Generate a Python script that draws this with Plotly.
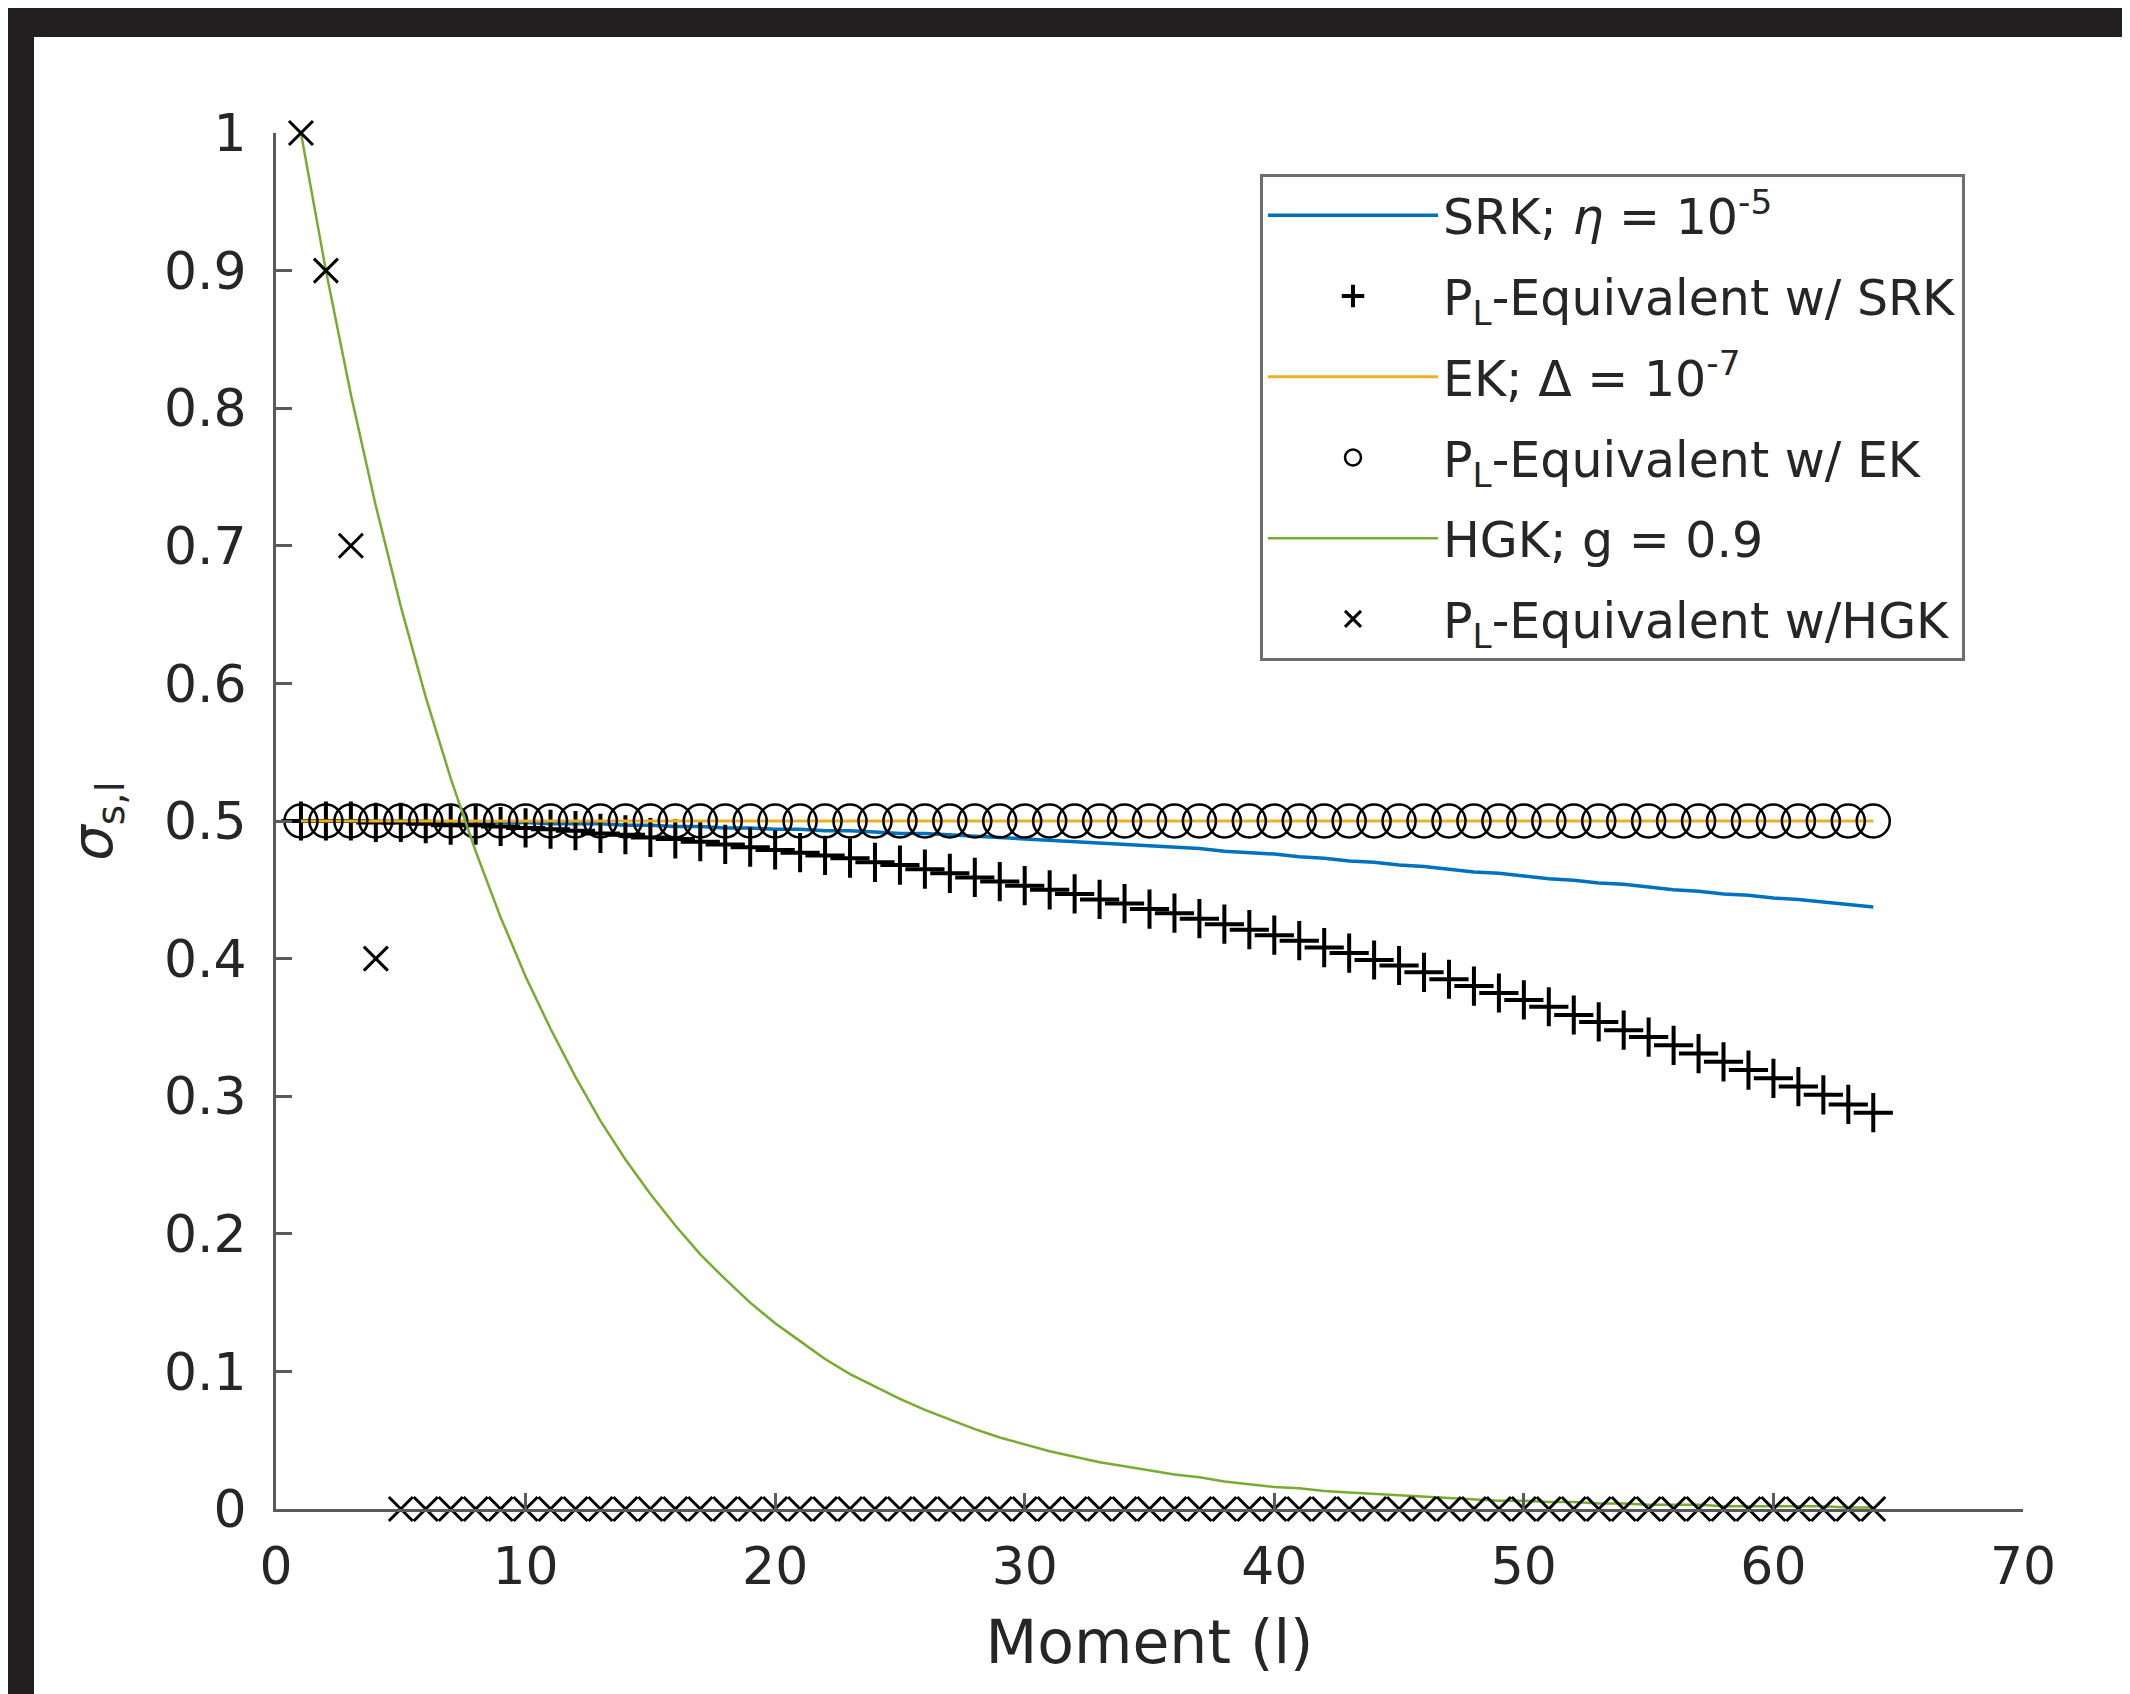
import plotly.graph_objects as go

# ---- data ----
moments = list(range(1, 65))

srk_line = [0.500, 0.500, 0.500, 0.500, 0.500, 0.500, 0.499, 0.499, 0.499, 0.499,
            0.498, 0.498, 0.498, 0.497, 0.497, 0.496, 0.496, 0.495, 0.495, 0.494,
            0.494, 0.493, 0.493, 0.492, 0.491, 0.491, 0.490, 0.489, 0.488, 0.487,
            0.486, 0.485, 0.484, 0.483, 0.482, 0.481, 0.480, 0.478, 0.477, 0.476,
            0.474, 0.473, 0.471, 0.470, 0.468, 0.467, 0.465, 0.463, 0.462, 0.460,
            0.458, 0.457, 0.455, 0.454, 0.452, 0.450, 0.449, 0.447, 0.446, 0.444,
            0.443, 0.441, 0.439, 0.4375]

pl_srk = [0.500, 0.500, 0.500, 0.499, 0.499, 0.498, 0.497, 0.497, 0.496, 0.495,
          0.494, 0.493, 0.491, 0.490, 0.488, 0.487, 0.485, 0.483, 0.481, 0.479,
          0.477, 0.475, 0.473, 0.470, 0.468, 0.465, 0.462, 0.459, 0.456, 0.453,
          0.450, 0.447, 0.443, 0.440, 0.436, 0.433, 0.429, 0.425, 0.421, 0.417,
          0.413, 0.408, 0.404, 0.399, 0.395, 0.390, 0.385, 0.380, 0.375, 0.370,
          0.365, 0.359, 0.354, 0.348, 0.343, 0.337, 0.331, 0.325, 0.319, 0.313,
          0.307, 0.301, 0.294, 0.288]

ek_line = [0.5] * 64
pl_ek = [0.5] * 64

hgk_line = [1.000, 0.900, 0.810, 0.729, 0.656, 0.590, 0.531, 0.478, 0.430, 0.387,
            0.349, 0.314, 0.282, 0.254, 0.229, 0.206, 0.185, 0.167, 0.150, 0.135,
            0.122, 0.109, 0.098, 0.089, 0.080, 0.072, 0.065, 0.058, 0.052, 0.047,
            0.042, 0.038, 0.034, 0.031, 0.028, 0.025, 0.023, 0.020, 0.018, 0.016,
            0.015, 0.013, 0.012, 0.011, 0.010, 0.009, 0.008, 0.007, 0.006, 0.006,
            0.005, 0.005, 0.004, 0.004, 0.003, 0.003, 0.003, 0.002, 0.002, 0.002,
            0.002, 0.002, 0.001, 0.001]

pl_hgk = [1.0, 0.9, 0.7, 0.4] + [0.0] * 60

x_ticks = [0, 10, 20, 30, 40, 50, 60, 70]
y_ticks = [0, 0.1, 0.2, 0.3, 0.4, 0.5, 0.6, 0.7, 0.8, 0.9, 1]
y_tick_text = ["0", "0.1", "0.2", "0.3", "0.4", "0.5", "0.6", "0.7", "0.8", "0.9", "1"]

names = ["SRK; <i>η</i> = 10<sup>-5</sup>",
         "P<sub>L</sub>-Equivalent w/ SRK",
         "EK; Δ = 10<sup>-7</sup>",
         "P<sub>L</sub>-Equivalent w/ EK",
         "HGK; g = 0.9",
         "P<sub>L</sub>-Equivalent w/HGK"]

FONT = "DejaVu Sans"
TXT = "#262626"
AX = "#5a5a5a"

fig = go.Figure()
fig.add_trace(go.Scatter(x=moments, y=srk_line, mode="lines", name=names[0],
                         line=dict(color="#0072BD", width=3.5), legendgroup="a"))
fig.add_trace(go.Scatter(x=moments, y=pl_srk, mode="markers", name=names[1],
                         marker=dict(symbol="cross-thin", size=28, color="black",
                                     line=dict(color="black", width=4)),
                         cliponaxis=False, legendgroup="b"))
fig.add_trace(go.Scatter(x=moments, y=ek_line, mode="lines", name=names[2],
                         line=dict(color="#EDB120", width=3), legendgroup="c"))
fig.add_trace(go.Scatter(x=moments, y=pl_ek, mode="markers", name=names[3],
                         marker=dict(symbol="circle-open", size=33, color="black",
                                     line=dict(color="black", width=2.5)),
                         cliponaxis=False, legendgroup="d"))
fig.add_trace(go.Scatter(x=moments, y=hgk_line, mode="lines", name=names[4],
                         line=dict(color="#77AC30", width=2.5), legendgroup="e"))
fig.add_trace(go.Scatter(x=moments, y=pl_hgk, mode="markers", name=names[5],
                         marker=dict(symbol="x-thin", size=24, color="black",
                                     line=dict(color="black", width=3)),
                         cliponaxis=False, legendgroup="f"))

W, H = 2122, 1686
L, R, T, B = 268, 107, 125, 185
pw, ph = W - L - R, H - T - B

def px_x(px):
    return (px - L) / pw

def px_y(py):
    return (H - B - py) / ph

fig.update_layout(
    width=W, height=H,
    margin=dict(l=L, r=R, t=T, b=B, autoexpand=False),
    paper_bgcolor="#231F20",
    plot_bgcolor="white",
    font=dict(family=FONT, color=TXT, size=52),
    shapes=[dict(type="rect", xref="paper", yref="paper", layer="below",
                 x0=px_x(26), x1=px_x(W + 20), y0=px_y(H + 20), y1=px_y(29),
                 fillcolor="white", line=dict(width=0))],
    xaxis=dict(range=[0, 70], tickvals=x_ticks, showgrid=False, zeroline=False,
               showline=True, linecolor=AX, linewidth=3, ticks="inside",
               ticklen=16, tickwidth=3, tickcolor=AX, ticklabelstandoff=10,
               tickfont=dict(size=52, color=TXT, family=FONT),
               title=dict(text="Moment (l)", font=dict(size=60, color=TXT, family=FONT),
                          standoff=26),
               automargin=False),
    yaxis=dict(range=[0, 1], tickvals=y_ticks, ticktext=y_tick_text, showgrid=False,
               zeroline=False, showline=True, linecolor=AX, linewidth=3,
               ticks="inside", ticklen=16, tickwidth=3, tickcolor=AX,
               ticklabelstandoff=16,
               tickfont=dict(size=52, color=TXT, family=FONT),
               title=dict(text="<i>σ</i><sub>s,l</sub>",
                          font=dict(size=56, color=TXT, family=FONT), standoff=34),
               automargin=False),
    legend=dict(x=px_x(1252), y=px_y(166), xanchor="left", yanchor="top",
                bgcolor="white", bordercolor="#6e6e6e", borderwidth=3,
                font=dict(size=49, color=TXT, family=FONT),
                itemwidth=170, tracegroupgap=14, traceorder="grouped"),
    showlegend=True,
)

fig.write_html("out.html")
